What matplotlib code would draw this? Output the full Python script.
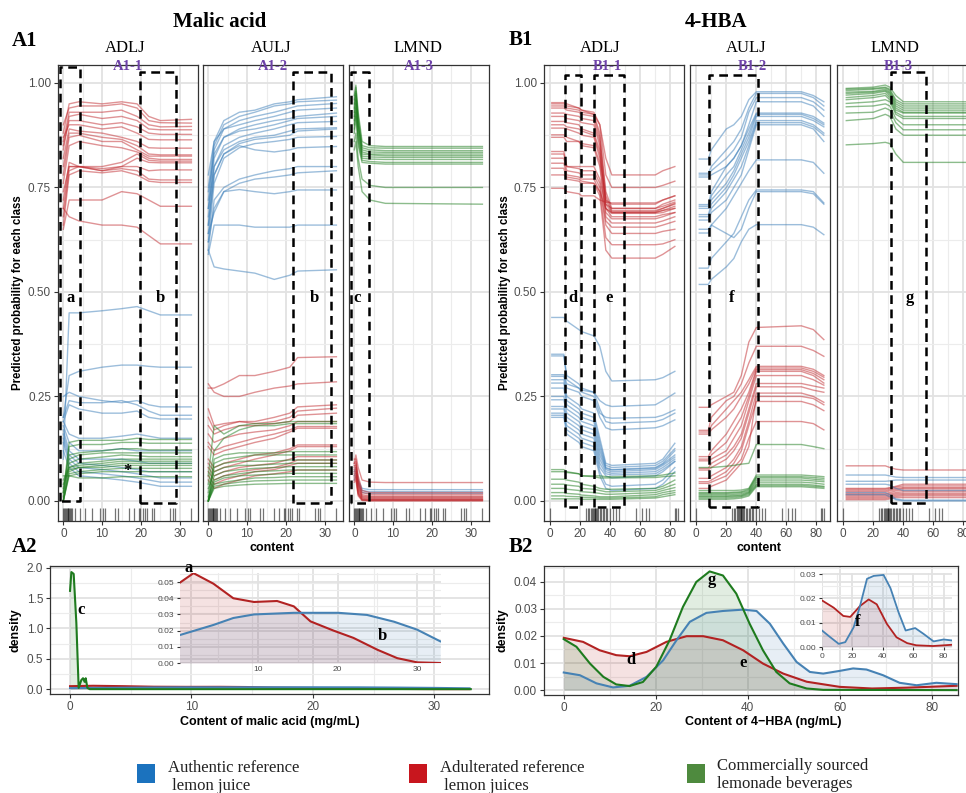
import matplotlib
matplotlib.use("Agg")
from matplotlib import pyplot as plt
from matplotlib.ticker import MultipleLocator, FormatStrFormatter
from matplotlib.patches import Rectangle

plt.rcParams['font.family'] = ['Liberation Sans', 'DejaVu Sans']
SERIF = ['Liberation Serif', 'DejaVu Serif']

RED = '#C0282D'
BLUE = '#3A7DB8'
GREEN = '#1B7A1B'

# ---------------- ICE curves, malic acid ----------------
A11_X = [0, 1.5, 4, 10, 15, 19, 22, 25, 33]
A11_RED = [
    [0.88, 0.95, 0.955, 0.95, 0.955, 0.95, 0.92, 0.91, 0.913],
    [0.90, 0.94, 0.945, 0.945, 0.95, 0.94, 0.91, 0.905, 0.904],
    [0.86, 0.93, 0.93, 0.93, 0.935, 0.92, 0.90, 0.895, 0.896],
    [0.84, 0.92, 0.925, 0.915, 0.92, 0.91, 0.89, 0.888, 0.888],
    [0.85, 0.91, 0.91, 0.90, 0.905, 0.895, 0.88, 0.877, 0.877],
    [0.87, 0.90, 0.90, 0.89, 0.895, 0.88, 0.865, 0.864, 0.864],
    [0.82, 0.89, 0.885, 0.88, 0.87, 0.86, 0.845, 0.844, 0.844],
    [0.80, 0.88, 0.88, 0.87, 0.865, 0.85, 0.83, 0.828, 0.828],
    [0.78, 0.87, 0.875, 0.86, 0.86, 0.84, 0.825, 0.825, 0.825],
    [0.76, 0.85, 0.86, 0.85, 0.845, 0.835, 0.82, 0.817, 0.817],
    [0.74, 0.80, 0.80, 0.80, 0.81, 0.83, 0.815, 0.813, 0.813],
    [0.72, 0.81, 0.80, 0.795, 0.80, 0.82, 0.81, 0.809, 0.809],
    [0.70, 0.80, 0.80, 0.79, 0.80, 0.80, 0.79, 0.792, 0.792],
    [0.68, 0.79, 0.80, 0.79, 0.795, 0.79, 0.77, 0.768, 0.768],
    [0.66, 0.78, 0.79, 0.785, 0.79, 0.78, 0.765, 0.762, 0.762],
    [0.65, 0.72, 0.72, 0.72, 0.74, 0.735, 0.72, 0.705, 0.705],
    [0.70, 0.68, 0.67, 0.66, 0.66, 0.655, 0.635, 0.615, 0.615],
]
A11_BLUE = [
    [0.10, 0.45, 0.45, 0.455, 0.46, 0.465, 0.455, 0.445, 0.445],
    [0.20, 0.30, 0.31, 0.32, 0.325, 0.325, 0.322, 0.32, 0.32],
    [0.25, 0.26, 0.25, 0.24, 0.235, 0.24, 0.23, 0.225, 0.225],
    [0.20, 0.24, 0.235, 0.235, 0.24, 0.23, 0.215, 0.205, 0.205],
    [0.19, 0.23, 0.22, 0.21, 0.21, 0.215, 0.20, 0.196, 0.196],
    [0.19, 0.16, 0.15, 0.15, 0.155, 0.16, 0.155, 0.15, 0.15],
    [0.18, 0.14, 0.12, 0.12, 0.125, 0.12, 0.12, 0.12, 0.12],
    [0.17, 0.12, 0.10, 0.10, 0.10, 0.095, 0.09, 0.09, 0.09],
    [0.16, 0.11, 0.09, 0.085, 0.08, 0.075, 0.07, 0.07, 0.07],
    [0.15, 0.10, 0.08, 0.075, 0.07, 0.065, 0.06, 0.055, 0.055],
    [0.14, 0.09, 0.07, 0.065, 0.06, 0.055, 0.05, 0.045, 0.045],
    [0.12, 0.08, 0.06, 0.055, 0.05, 0.045, 0.04, 0.035, 0.035],
]
A11_GREEN = [
    [0.02, 0.14, 0.145, 0.145, 0.145, 0.15, 0.147, 0.147, 0.147],
    [0.01, 0.13, 0.135, 0.135, 0.14, 0.14, 0.138, 0.138, 0.138],
    [0.03, 0.11, 0.115, 0.12, 0.125, 0.125, 0.122, 0.122, 0.122],
    [0.0, 0.10, 0.11, 0.115, 0.115, 0.115, 0.115, 0.115, 0.115],
    [0.02, 0.09, 0.10, 0.105, 0.11, 0.108, 0.106, 0.106, 0.106],
    [0.0, 0.08, 0.09, 0.095, 0.10, 0.10, 0.10, 0.10, 0.10],
    [0.05, 0.08, 0.085, 0.09, 0.095, 0.095, 0.095, 0.095, 0.095],
    [0.0, 0.07, 0.08, 0.085, 0.09, 0.09, 0.09, 0.09, 0.09],
    [0.04, 0.075, 0.08, 0.08, 0.085, 0.085, 0.085, 0.085, 0.085],
    [0.0, 0.065, 0.07, 0.075, 0.078, 0.078, 0.078, 0.078, 0.078],
    [0.06, 0.06, 0.055, 0.055, 0.058, 0.058, 0.058, 0.058, 0.058],
    [0.0, 0.06, 0.065, 0.07, 0.07, 0.07, 0.07, 0.07, 0.07],
]

A12_X = [0, 1.5, 4, 8, 12, 17, 21, 23, 33]
A12_BLUE = [
    [0.75, 0.86, 0.91, 0.93, 0.935, 0.95, 0.955, 0.96, 0.967],
    [0.72, 0.85, 0.90, 0.92, 0.93, 0.945, 0.95, 0.955, 0.959],
    [0.70, 0.84, 0.89, 0.91, 0.92, 0.93, 0.94, 0.945, 0.951],
    [0.78, 0.86, 0.89, 0.90, 0.91, 0.92, 0.93, 0.935, 0.94],
    [0.68, 0.82, 0.87, 0.89, 0.90, 0.91, 0.915, 0.92, 0.928],
    [0.74, 0.83, 0.87, 0.885, 0.89, 0.90, 0.91, 0.915, 0.92],
    [0.66, 0.80, 0.85, 0.87, 0.88, 0.89, 0.90, 0.905, 0.908],
    [0.70, 0.80, 0.84, 0.86, 0.87, 0.875, 0.885, 0.89, 0.893],
    [0.64, 0.78, 0.83, 0.855, 0.865, 0.87, 0.875, 0.885, 0.89],
    [0.62, 0.76, 0.82, 0.845, 0.855, 0.86, 0.865, 0.87, 0.872],
    [0.66, 0.78, 0.83, 0.85, 0.84, 0.835, 0.84, 0.845, 0.848],
    [0.60, 0.72, 0.75, 0.77, 0.78, 0.79, 0.795, 0.80, 0.80],
    [0.62, 0.70, 0.74, 0.76, 0.77, 0.775, 0.78, 0.785, 0.79],
    [0.64, 0.69, 0.74, 0.745, 0.74, 0.735, 0.74, 0.744, 0.744],
    [0.59, 0.66, 0.66, 0.66, 0.655, 0.655, 0.655, 0.66, 0.66],
    [0.60, 0.56, 0.555, 0.55, 0.545, 0.53, 0.54, 0.55, 0.553],
]
A12_RED = [
    [0.27, 0.27, 0.28, 0.30, 0.30, 0.31, 0.32, 0.343, 0.345],
    [0.28, 0.26, 0.25, 0.25, 0.26, 0.27, 0.275, 0.28, 0.285],
    [0.22, 0.18, 0.185, 0.19, 0.19, 0.20, 0.21, 0.225, 0.23],
    [0.20, 0.17, 0.18, 0.19, 0.185, 0.19, 0.20, 0.215, 0.222],
    [0.18, 0.16, 0.17, 0.18, 0.18, 0.185, 0.19, 0.205, 0.21],
    [0.16, 0.14, 0.15, 0.16, 0.165, 0.17, 0.18, 0.19, 0.19],
    [0.14, 0.12, 0.13, 0.14, 0.15, 0.16, 0.17, 0.178, 0.178],
    [0.13, 0.11, 0.12, 0.13, 0.14, 0.15, 0.165, 0.174, 0.174],
    [0.10, 0.08, 0.09, 0.10, 0.11, 0.115, 0.125, 0.134, 0.134],
    [0.09, 0.07, 0.08, 0.09, 0.10, 0.11, 0.12, 0.13, 0.13],
    [0.08, 0.06, 0.07, 0.08, 0.085, 0.09, 0.10, 0.106, 0.106],
    [0.07, 0.05, 0.06, 0.07, 0.075, 0.08, 0.09, 0.098, 0.098],
    [0.06, 0.04, 0.05, 0.06, 0.07, 0.075, 0.085, 0.09, 0.09],
    [0.05, 0.03, 0.04, 0.05, 0.06, 0.065, 0.07, 0.074, 0.074],
]
A12_GREEN = [
    [0.0, 0.10, 0.11, 0.115, 0.115, 0.115, 0.118, 0.118, 0.118],
    [0.02, 0.09, 0.10, 0.105, 0.11, 0.11, 0.11, 0.11, 0.11],
    [0.0, 0.08, 0.09, 0.095, 0.095, 0.095, 0.098, 0.098, 0.098],
    [0.03, 0.07, 0.08, 0.085, 0.085, 0.088, 0.09, 0.09, 0.09],
    [0.0, 0.06, 0.07, 0.075, 0.078, 0.08, 0.082, 0.082, 0.082],
    [0.01, 0.05, 0.06, 0.065, 0.07, 0.072, 0.074, 0.074, 0.074],
    [0.0, 0.045, 0.055, 0.06, 0.062, 0.064, 0.066, 0.066, 0.066],
    [0.0, 0.04, 0.045, 0.05, 0.055, 0.056, 0.058, 0.058, 0.058],
    [0.0, 0.035, 0.04, 0.045, 0.048, 0.049, 0.05, 0.05, 0.05],
    [0.0, 0.03, 0.035, 0.038, 0.04, 0.041, 0.042, 0.042, 0.042],
    [0.06, 0.18, 0.16, 0.18, 0.185, 0.185, 0.19, 0.19, 0.19],
    [0.04, 0.12, 0.15, 0.17, 0.18, 0.18, 0.185, 0.185, 0.185],
]

A13_X = [0, 0.4, 1, 2, 4, 8, 33]
A13_GREEN = [
    [0.97, 0.995, 0.93, 0.86, 0.85, 0.848, 0.848],
    [0.96, 0.99, 0.92, 0.85, 0.845, 0.844, 0.844],
    [0.95, 0.98, 0.91, 0.845, 0.84, 0.838, 0.838],
    [0.94, 0.975, 0.90, 0.84, 0.835, 0.834, 0.834],
    [0.93, 0.97, 0.90, 0.835, 0.83, 0.83, 0.83],
    [0.92, 0.96, 0.89, 0.83, 0.828, 0.826, 0.826],
    [0.91, 0.95, 0.88, 0.825, 0.823, 0.822, 0.822],
    [0.90, 0.94, 0.87, 0.82, 0.818, 0.817, 0.817],
    [0.89, 0.93, 0.86, 0.815, 0.812, 0.81, 0.81],
    [0.88, 0.92, 0.85, 0.81, 0.808, 0.806, 0.806],
    [0.86, 0.88, 0.82, 0.77, 0.755, 0.75, 0.75],
    [0.84, 0.86, 0.80, 0.74, 0.72, 0.712, 0.71],
]
A13_RED = [
    [0.09, 0.11, 0.08, 0.05, 0.045, 0.044, 0.044],
    [0.10, 0.10, 0.06, 0.025, 0.02, 0.02, 0.02],
    [0.09, 0.095, 0.05, 0.02, 0.016, 0.016, 0.016],
    [0.08, 0.09, 0.045, 0.015, 0.012, 0.012, 0.012],
    [0.085, 0.085, 0.04, 0.012, 0.01, 0.01, 0.01],
    [0.075, 0.08, 0.035, 0.01, 0.008, 0.008, 0.008],
    [0.07, 0.075, 0.03, 0.008, 0.006, 0.006, 0.006],
    [0.065, 0.07, 0.025, 0.006, 0.004, 0.004, 0.004],
    [0.06, 0.065, 0.02, 0.004, 0.003, 0.003, 0.003],
    [0.055, 0.06, 0.018, 0.003, 0.002, 0.002, 0.002],
    [0.05, 0.055, 0.015, 0.002, 0.001, 0.001, 0.001],
    [0.045, 0.05, 0.012, 0.001, 0.0, 0.0, 0.0],
]
A13_BLUE = [
    [0.07, 0.08, 0.05, 0.03, 0.027, 0.027, 0.027],
    [0.06, 0.07, 0.045, 0.025, 0.022, 0.022, 0.022],
    [0.05, 0.06, 0.04, 0.02, 0.018, 0.018, 0.018],
]

MALIC_RUG = [0, 0.2, 0.4, 0.6, 0.9, 1.1, 1.3, 1.5, 1.7, 2.0, 2.2, 3.0, 4.3, 5.6, 7.3, 9.5,
             10.3, 10.8, 13.4, 14.2, 16.8, 18.1, 19.4, 19.8, 20.5, 21.1, 21.6, 22.8, 23.3,
             27.6, 28.3, 28.9, 32.8]

# ---------------- ICE curves, 4-HBA ----------------
B11_X = [1, 9, 11, 19, 21, 29, 33, 37, 41, 70, 75, 83]
B11_RED = [
    [0.953, 0.953, 0.95, 0.94, 0.935, 0.93, 0.90, 0.82, 0.78, 0.78, 0.79, 0.80],
    [0.95, 0.95, 0.945, 0.94, 0.935, 0.925, 0.90, 0.78, 0.75, 0.75, 0.755, 0.765],
    [0.945, 0.945, 0.94, 0.935, 0.93, 0.925, 0.88, 0.74, 0.70, 0.70, 0.71, 0.72],
    [0.94, 0.94, 0.935, 0.93, 0.925, 0.92, 0.87, 0.73, 0.695, 0.695, 0.70, 0.712],
    [0.928, 0.928, 0.925, 0.92, 0.915, 0.91, 0.86, 0.72, 0.692, 0.692, 0.70, 0.71],
    [0.92, 0.92, 0.915, 0.91, 0.905, 0.90, 0.85, 0.71, 0.69, 0.69, 0.695, 0.705],
    [0.908, 0.908, 0.905, 0.90, 0.89, 0.88, 0.84, 0.70, 0.688, 0.688, 0.69, 0.70],
    [0.90, 0.90, 0.895, 0.89, 0.885, 0.875, 0.83, 0.71, 0.70, 0.70, 0.705, 0.715],
    [0.892, 0.892, 0.89, 0.88, 0.875, 0.87, 0.82, 0.72, 0.71, 0.71, 0.72, 0.73],
    [0.876, 0.876, 0.87, 0.86, 0.855, 0.85, 0.81, 0.69, 0.675, 0.675, 0.68, 0.69],
    [0.87, 0.87, 0.86, 0.86, 0.85, 0.845, 0.80, 0.68, 0.665, 0.665, 0.67, 0.68],
    [0.836, 0.836, 0.80, 0.80, 0.80, 0.80, 0.77, 0.70, 0.68, 0.68, 0.685, 0.69],
    [0.83, 0.83, 0.80, 0.795, 0.79, 0.79, 0.76, 0.67, 0.655, 0.655, 0.66, 0.669],
    [0.82, 0.82, 0.79, 0.785, 0.78, 0.78, 0.75, 0.66, 0.64, 0.64, 0.645, 0.65],
    [0.808, 0.808, 0.78, 0.775, 0.77, 0.77, 0.74, 0.63, 0.613, 0.613, 0.615, 0.625],
    [0.796, 0.796, 0.77, 0.765, 0.76, 0.76, 0.73, 0.60, 0.581, 0.581, 0.59, 0.609],
    [0.78, 0.78, 0.775, 0.77, 0.765, 0.76, 0.74, 0.70, 0.69, 0.69, 0.695, 0.70],
    [0.748, 0.748, 0.74, 0.735, 0.73, 0.73, 0.72, 0.715, 0.713, 0.713, 0.72, 0.73],
]
B11_BLUE = [
    [0.439, 0.439, 0.43, 0.41, 0.405, 0.395, 0.37, 0.31, 0.287, 0.29, 0.295, 0.31],
    [0.351, 0.351, 0.30, 0.28, 0.27, 0.26, 0.24, 0.23, 0.226, 0.23, 0.24, 0.258],
    [0.347, 0.347, 0.29, 0.27, 0.26, 0.25, 0.21, 0.20, 0.198, 0.20, 0.205, 0.218],
    [0.302, 0.302, 0.28, 0.27, 0.265, 0.26, 0.22, 0.19, 0.186, 0.19, 0.195, 0.21],
    [0.298, 0.298, 0.27, 0.26, 0.25, 0.24, 0.20, 0.175, 0.17, 0.175, 0.18, 0.194],
    [0.29, 0.29, 0.25, 0.23, 0.22, 0.21, 0.15, 0.09, 0.085, 0.09, 0.10, 0.138],
    [0.282, 0.282, 0.24, 0.22, 0.21, 0.20, 0.14, 0.085, 0.08, 0.085, 0.095, 0.125],
    [0.27, 0.27, 0.23, 0.21, 0.20, 0.19, 0.13, 0.08, 0.075, 0.08, 0.09, 0.12],
    [0.25, 0.25, 0.22, 0.20, 0.19, 0.18, 0.12, 0.078, 0.074, 0.078, 0.088, 0.11],
    [0.242, 0.242, 0.21, 0.19, 0.18, 0.17, 0.11, 0.075, 0.07, 0.075, 0.085, 0.105],
    [0.226, 0.226, 0.20, 0.18, 0.17, 0.16, 0.10, 0.07, 0.066, 0.07, 0.08, 0.10],
    [0.22, 0.22, 0.19, 0.17, 0.16, 0.15, 0.09, 0.065, 0.062, 0.065, 0.075, 0.095],
    [0.21, 0.21, 0.18, 0.16, 0.15, 0.14, 0.08, 0.06, 0.055, 0.06, 0.07, 0.094],
    [0.205, 0.205, 0.17, 0.15, 0.14, 0.13, 0.07, 0.04, 0.035, 0.04, 0.05, 0.08],
    [0.20, 0.20, 0.16, 0.14, 0.13, 0.12, 0.06, 0.03, 0.025, 0.03, 0.04, 0.07],
]
B11_GREEN = [
    [0.075, 0.075, 0.07, 0.065, 0.06, 0.06, 0.06, 0.058, 0.058, 0.06, 0.062, 0.067],
    [0.07, 0.07, 0.068, 0.065, 0.06, 0.058, 0.055, 0.055, 0.055, 0.056, 0.058, 0.06],
    [0.052, 0.052, 0.05, 0.045, 0.04, 0.035, 0.03, 0.028, 0.028, 0.03, 0.035, 0.05],
    [0.04, 0.04, 0.038, 0.035, 0.03, 0.028, 0.025, 0.022, 0.022, 0.025, 0.03, 0.04],
    [0.03, 0.03, 0.028, 0.025, 0.022, 0.02, 0.018, 0.016, 0.016, 0.02, 0.025, 0.032],
    [0.02, 0.02, 0.018, 0.016, 0.014, 0.012, 0.01, 0.01, 0.01, 0.015, 0.02, 0.025],
    [0.012, 0.012, 0.011, 0.01, 0.009, 0.008, 0.007, 0.007, 0.007, 0.01, 0.015, 0.02],
    [0.005, 0.005, 0.005, 0.005, 0.004, 0.004, 0.004, 0.004, 0.004, 0.007, 0.01, 0.015],
]

B12_X = [2, 8, 10, 20, 25, 30, 35, 40, 70, 78, 85]
B12_BLUE = [
    [0.818, 0.818, 0.84, 0.89, 0.90, 0.92, 0.96, 0.979, 0.979, 0.97, 0.955],
    [0.784, 0.784, 0.80, 0.84, 0.86, 0.89, 0.94, 0.975, 0.975, 0.965, 0.945],
    [0.780, 0.780, 0.79, 0.82, 0.84, 0.87, 0.93, 0.965, 0.965, 0.955, 0.935],
    [0.775, 0.775, 0.78, 0.80, 0.82, 0.85, 0.90, 0.955, 0.955, 0.945, 0.92],
    [0.709, 0.709, 0.74, 0.80, 0.82, 0.85, 0.89, 0.928, 0.928, 0.92, 0.904],
    [0.705, 0.705, 0.73, 0.78, 0.80, 0.84, 0.88, 0.925, 0.925, 0.915, 0.90],
    [0.70, 0.70, 0.72, 0.76, 0.79, 0.83, 0.87, 0.92, 0.92, 0.91, 0.895],
    [0.685, 0.685, 0.71, 0.75, 0.78, 0.82, 0.86, 0.91, 0.91, 0.90, 0.88],
    [0.68, 0.68, 0.70, 0.74, 0.77, 0.80, 0.85, 0.905, 0.905, 0.895, 0.875],
    [0.672, 0.672, 0.69, 0.72, 0.75, 0.78, 0.84, 0.90, 0.90, 0.89, 0.86],
    [0.641, 0.641, 0.66, 0.70, 0.73, 0.76, 0.79, 0.816, 0.816, 0.81, 0.784],
    [0.557, 0.557, 0.58, 0.62, 0.64, 0.68, 0.72, 0.744, 0.744, 0.74, 0.713],
    [0.518, 0.518, 0.53, 0.56, 0.58, 0.62, 0.65, 0.661, 0.661, 0.655, 0.637],
    [0.65, 0.65, 0.66, 0.64, 0.63, 0.65, 0.70, 0.74, 0.74, 0.735, 0.71],
]
B12_RED = [
    [0.224, 0.224, 0.23, 0.25, 0.26, 0.30, 0.38, 0.415, 0.419, 0.41, 0.386],
    [0.169, 0.169, 0.20, 0.24, 0.25, 0.28, 0.33, 0.37, 0.37, 0.36, 0.346],
    [0.165, 0.165, 0.18, 0.22, 0.24, 0.26, 0.29, 0.322, 0.322, 0.315, 0.30],
    [0.160, 0.160, 0.17, 0.20, 0.22, 0.25, 0.28, 0.318, 0.318, 0.31, 0.296],
    [0.106, 0.106, 0.12, 0.16, 0.19, 0.22, 0.26, 0.314, 0.314, 0.305, 0.29],
    [0.10, 0.10, 0.11, 0.14, 0.17, 0.20, 0.25, 0.31, 0.31, 0.30, 0.282],
    [0.096, 0.096, 0.10, 0.12, 0.15, 0.18, 0.24, 0.30, 0.30, 0.29, 0.277],
    [0.078, 0.078, 0.09, 0.11, 0.13, 0.16, 0.22, 0.281, 0.281, 0.275, 0.27],
    [0.074, 0.074, 0.08, 0.10, 0.12, 0.15, 0.21, 0.273, 0.273, 0.265, 0.26],
    [0.054, 0.054, 0.06, 0.08, 0.10, 0.13, 0.19, 0.258, 0.258, 0.25, 0.236],
    [0.046, 0.046, 0.05, 0.07, 0.09, 0.12, 0.18, 0.238, 0.238, 0.23, 0.216],
    [0.042, 0.042, 0.045, 0.06, 0.08, 0.10, 0.15, 0.19, 0.19, 0.185, 0.17],
    [0.030, 0.030, 0.035, 0.05, 0.07, 0.09, 0.13, 0.25, 0.25, 0.245, 0.23],
]
B12_GREEN = [
    [0.08, 0.08, 0.08, 0.083, 0.085, 0.088, 0.09, 0.135, 0.135, 0.13, 0.125],
    [0.025, 0.025, 0.025, 0.025, 0.025, 0.026, 0.03, 0.062, 0.062, 0.06, 0.058],
    [0.02, 0.02, 0.02, 0.02, 0.021, 0.022, 0.028, 0.058, 0.058, 0.056, 0.054],
    [0.018, 0.018, 0.018, 0.018, 0.019, 0.02, 0.025, 0.055, 0.055, 0.052, 0.05],
    [0.015, 0.015, 0.015, 0.015, 0.016, 0.017, 0.022, 0.05, 0.05, 0.048, 0.046],
    [0.012, 0.012, 0.012, 0.012, 0.013, 0.014, 0.02, 0.045, 0.045, 0.043, 0.04],
    [0.01, 0.01, 0.01, 0.01, 0.011, 0.012, 0.018, 0.04, 0.04, 0.038, 0.035],
    [0.007, 0.007, 0.007, 0.007, 0.008, 0.01, 0.015, 0.037, 0.037, 0.035, 0.033],
    [0.004, 0.004, 0.004, 0.004, 0.005, 0.007, 0.012, 0.034, 0.034, 0.032, 0.03],
]

B13_X = [2, 20, 28, 31, 35, 40, 85]
B13_GREEN = [
    [0.987, 0.99, 0.995, 0.99, 0.97, 0.955, 0.955],
    [0.985, 0.987, 0.99, 0.985, 0.96, 0.95, 0.95],
    [0.982, 0.985, 0.988, 0.982, 0.955, 0.945, 0.945],
    [0.978, 0.98, 0.985, 0.978, 0.95, 0.94, 0.94],
    [0.975, 0.978, 0.982, 0.975, 0.945, 0.935, 0.935],
    [0.971, 0.975, 0.98, 0.97, 0.94, 0.93, 0.93],
    [0.965, 0.97, 0.975, 0.965, 0.935, 0.928, 0.928],
    [0.96, 0.965, 0.97, 0.96, 0.93, 0.92, 0.92],
    [0.951, 0.955, 0.96, 0.955, 0.925, 0.915, 0.915],
    [0.943, 0.945, 0.95, 0.945, 0.915, 0.90, 0.90],
    [0.928, 0.93, 0.94, 0.935, 0.905, 0.888, 0.888],
    [0.91, 0.915, 0.925, 0.92, 0.89, 0.875, 0.875],
    [0.852, 0.855, 0.858, 0.855, 0.83, 0.81, 0.81],
]
B13_RED = [
    [0.084, 0.084, 0.084, 0.08, 0.076, 0.074, 0.074],
    [0.03, 0.03, 0.03, 0.032, 0.035, 0.04, 0.04],
    [0.028, 0.028, 0.028, 0.03, 0.033, 0.036, 0.036],
    [0.025, 0.025, 0.025, 0.027, 0.03, 0.032, 0.032],
    [0.022, 0.022, 0.022, 0.024, 0.027, 0.03, 0.03],
    [0.018, 0.018, 0.018, 0.02, 0.024, 0.026, 0.026],
    [0.015, 0.015, 0.015, 0.017, 0.02, 0.022, 0.022],
    [0.012, 0.012, 0.012, 0.014, 0.017, 0.018, 0.018],
    [0.009, 0.009, 0.009, 0.011, 0.014, 0.015, 0.015],
    [0.006, 0.006, 0.006, 0.008, 0.011, 0.012, 0.012],
    [0.003, 0.003, 0.003, 0.005, 0.008, 0.008, 0.008],
]
B13_BLUE = [
    [0.062, 0.062, 0.062, 0.06, 0.057, 0.056, 0.056],
    [0.047, 0.047, 0.047, 0.048, 0.05, 0.05, 0.05],
    [0.04, 0.04, 0.04, 0.038, 0.03, 0.025, 0.025],
    [0.02, 0.02, 0.02, 0.015, 0.005, 0.002, 0.002],
    [0.015, 0.015, 0.015, 0.01, 0.003, 0.0, 0.0],
]

HBA_RUG = [0, 24, 25, 26, 27, 28, 28.5, 29, 29.5, 30, 30.5, 31, 32, 33, 34, 35, 36, 37, 38,
           40, 42, 44, 46, 57, 61, 64, 66, 83, 84, 85]

# ---------------- densities ----------------
MALIC_RED_X = [0, 1.9, 4.4, 6.9, 9.5, 12.4, 14.5, 16.6, 19.5, 22.0, 25.0, 27.5, 30.0, 32.9]
MALIC_RED_Y = [0.049, 0.0555, 0.049, 0.040, 0.0377, 0.0383, 0.035, 0.0257, 0.020, 0.0155,
               0.0082, 0.003, 0.0004, 0.0]
MALIC_BLUE_X = [0, 4.4, 6.9, 9.5, 14.5, 20.1, 23.7, 27.1, 30.0, 32.9]
MALIC_BLUE_Y = [0.017, 0.0235, 0.0278, 0.030, 0.031, 0.031, 0.0297, 0.0255, 0.0206, 0.0134]
MALIC_GREEN_X = [0, 0.11, 0.3, 0.52, 0.71, 0.93, 1.07, 1.2, 1.29, 1.43, 1.62, 33]
MALIC_GREEN_Y = [1.62, 1.93, 1.9, 1.09, 0.02, 0.15, 0.18, 0.12, 0.18, 0.02, 0.0, 0.0]

HBA_RED_X = [0, 4.2, 7.8, 11.4, 14.3, 18, 22.3, 26.7, 30.3, 34.6, 39, 43.3, 47.7, 52.8, 60, 67,
             74.5, 85.4]
HBA_RED_Y = [0.0193, 0.0178, 0.0147, 0.0129, 0.0125, 0.0141, 0.0178, 0.0199, 0.0199, 0.0184,
             0.0147, 0.0098, 0.0061, 0.0031, 0.0012, 0.0006, 0.0009, 0.0016]
HBA_GREEN_X = [0, 2.75, 5.7, 8.6, 11.4, 14.3, 17.2, 20.1, 23, 25.9, 28.8, 31.7, 34.6, 37.5, 40.4,
               43.3, 46.2, 49.1, 52.8, 56.4, 85.4]
HBA_GREEN_Y = [0.0188, 0.016, 0.0098, 0.0049, 0.0021, 0.0015, 0.003, 0.0086, 0.0184, 0.0307,
               0.0399, 0.0438, 0.0423, 0.0356, 0.0245, 0.0147, 0.0067, 0.0025, 0.0006, 0.0001, 0.0]
HBA_BLUE_X = [0, 3.5, 7.1, 10.7, 14.3, 18, 21.6, 24.5, 27.4, 31, 34.6, 39, 41.9, 44.8, 47.7, 50.6,
              53.5, 56.4, 60, 62.9, 65.8, 69.4, 73, 76.7, 81, 85.4]
HBA_BLUE_Y = [0.0065, 0.0055, 0.0025, 0.001, 0.0016, 0.0049, 0.011, 0.0184, 0.0252, 0.0285,
              0.0292, 0.0297, 0.0292, 0.0245, 0.0172, 0.0104, 0.0067, 0.0061, 0.0071, 0.008,
              0.0076, 0.0055, 0.0027, 0.0018, 0.0027, 0.0022]
HBA_IN_RED_X = [0, 7.7, 14, 18.6, 25, 30.7, 36, 42.7, 49, 56, 62, 73, 85]
HBA_IN_RED_Y = [0.0192, 0.0162, 0.0128, 0.0124, 0.0169, 0.0196, 0.0176, 0.0095, 0.004, 0.0016,
                0.0007, 0.0004, 0.0009]
HBA_IN_BLUE_X = [0, 5.5, 11, 15.3, 20.8, 25, 29.6, 34, 40.5, 45, 50.4, 55, 61.3, 66.8, 73.4, 80,
                 85.4]
HBA_IN_BLUE_Y = [0.0068, 0.004, 0.0013, 0.002, 0.0081, 0.0169, 0.0281, 0.0293, 0.0297, 0.0243,
                 0.0142, 0.0068, 0.0078, 0.0054, 0.0023, 0.0031, 0.0027]

CLASS_LABELS = ['Authentic reference\n lemon juice', 'Adulterated reference\n lemon juices',
                'Commercially sourced\nlemonade beverages']
CLASS_COLORS = ['#1B72BE', '#C8161E', '#4E8A3E']

W, H = 966, 793
fig = plt.figure(figsize=(W / 100, H / 100), dpi=100)


def px_axes(x0, y0, x1, y1):
    return fig.add_axes([x0 / W, 1 - y1 / H, (x1 - x0) / W, (y1 - y0) / H])


def ftext(x, y, s, **kw):
    fig.text(x / W, 1 - y / H, s, **kw)


def style(ax, xmaj, xmin, ymaj, ymin):
    ax.xaxis.set_major_locator(MultipleLocator(xmaj))
    ax.xaxis.set_minor_locator(MultipleLocator(xmin))
    ax.yaxis.set_major_locator(MultipleLocator(ymaj))
    ax.yaxis.set_minor_locator(MultipleLocator(ymin))
    ax.grid(which='major', color='#e2e2e2', lw=1.3)
    ax.grid(which='minor', color='#ececec', lw=0.8)
    ax.set_axisbelow(True)
    ax.tick_params(which='minor', length=0)
    ax.tick_params(which='major', labelsize=8.5, labelcolor='#4D4D4D', color='#333333',
                   length=3, width=0.8, pad=2)
    for s in ax.spines.values():
        s.set_color('#333333')
        s.set_linewidth(0.9)


def ice_panel(rect, xlim, xmaj, xmin, xs, groups, rug, boxes, letters, show_y):
    ax = px_axes(*rect)
    ax.set_xlim(*xlim)
    ax.set_ylim(-0.048, 1.043)
    style(ax, xmaj, xmin, 0.25, 0.125)
    ax.yaxis.set_major_formatter(FormatStrFormatter('%.2f'))
    if not show_y:
        ax.tick_params(axis='y', labelleft=False, length=0)
    for curves, col in groups:
        for ys in curves:
            ax.plot(xs, ys, color=col, alpha=0.5, lw=1.0)
    ax.vlines(rug, 0, 0.028, transform=ax.get_xaxis_transform(), color='black', alpha=0.55, lw=0.9)
    for x0, x1, y0, y1 in boxes:
        ax.plot([x0, x0, x1, x1, x0], [y0, y1, y1, y0, y0], color='black', lw=1.8,
                ls=(0, (3.5, 2.2)), clip_on=False)
    for x, y, t in letters:
        ax.text(x, y, t, family=SERIF, weight='bold', fontsize=12, ha='center', va='center')
    return ax


# ---- A1 row ----
ice_panel((58, 65, 198, 521), (-1.37, 34.7), 10, 5, A11_X,
          [(A11_RED, RED), (A11_BLUE, BLUE), (A11_GREEN, GREEN)], MALIC_RUG,
          [(-0.86, 4.3, 0.0, 1.038), (19.8, 29.05, -0.006, 1.026)],
          [(2.0, 0.486, 'a'), (25.0, 0.486, 'b'), (16.5, 0.072, '*')], True)
ice_panel((203, 65, 343, 521), (-1.37, 34.7), 10, 5, A12_X,
          [(A12_RED, RED), (A12_GREEN, GREEN), (A12_BLUE, BLUE)], MALIC_RUG,
          [(21.8, 31.5, -0.006, 1.026)], [(27.3, 0.486, 'b')], False)
ice_panel((349, 65, 489, 521), (-1.37, 34.7), 10, 5, A13_X,
          [(A13_GREEN, GREEN), (A13_BLUE, BLUE), (A13_RED, RED)], MALIC_RUG,
          [(-0.86, 3.9, -0.006, 1.026)], [(0.7, 0.486, 'c')], False)

# ---- B1 row ----
ice_panel((544, 65, 684, 521), (-4.2, 89.1), 20, 10, B11_X,
          [(B11_RED, RED), (B11_BLUE, BLUE), (B11_GREEN, GREEN)], HBA_RUG,
          [(9.8, 20.2, -0.014, 1.018), (29.3, 49.3, -0.014, 1.018)],
          [(15.3, 0.486, 'd'), (39.3, 0.486, 'e')], True)
ice_panel((690, 65, 830, 521), (-4.2, 89.1), 20, 10, B12_X,
          [(B12_BLUE, BLUE), (B12_RED, RED), (B12_GREEN, GREEN)], HBA_RUG,
          [(8.2, 40.9, -0.014, 1.018)], [(23.6, 0.486, 'f')], False)
ice_panel((837, 65, 977, 521), (-4.2, 89.1), 20, 10, B13_X,
          [(B13_GREEN, GREEN), (B13_RED, RED), (B13_BLUE, BLUE)], HBA_RUG,
          [(31.6, 55.3, -0.006, 1.027)], [(44.2, 0.486, 'g')], False)

# ---- A2 density ----
ax = px_axes(50, 566, 489, 694)
ax.set_xlim(-1.65, 34.5)
ax.set_ylim(-0.08, 2.03)
style(ax, 10, 5, 0.5, 0.25)
ax.yaxis.set_major_formatter(FormatStrFormatter('%.1f'))
for xs, ys, col in [(MALIC_RED_X, MALIC_RED_Y, '#B22222'), (MALIC_BLUE_X, MALIC_BLUE_Y, '#4682B4'),
                    (MALIC_GREEN_X, MALIC_GREEN_Y, '#1E7B1E')]:
    ax.fill_between(xs, ys, color=col, alpha=0.13, lw=0)
    ax.plot(xs, ys, color=col, lw=1.5)
ax.text(0.9, 1.3, 'c', family=SERIF, weight='bold', fontsize=12, ha='center', va='center')
ax.set_ylabel('density', fontsize=9, weight='bold', labelpad=4)

ins = px_axes(180, 573, 441, 663)
ins.patch.set_alpha(0)
ins.set_xlim(0.2, 33)
ins.set_ylim(0, 0.0556)
style(ins, 10, 5, 0.01, 0.005)
ins.tick_params(which='major', labelsize=6, length=2)
ins.tick_params(axis='x', length=0)
ins.yaxis.set_major_formatter(FormatStrFormatter('%.2f'))
for s in ins.spines.values():
    s.set_visible(False)
for xs, ys, col in [(MALIC_RED_X, MALIC_RED_Y, '#B22222'), (MALIC_BLUE_X, MALIC_BLUE_Y, '#4682B4')]:
    ins.fill_between(xs, ys, color=col, alpha=0.13, lw=0)
    ins.plot(xs, ys, color=col, lw=1.5)
ins.text(1.3, 0.0585, 'a', family=SERIF, weight='bold', fontsize=12, ha='center', va='center',
         clip_on=False)
ins.text(25.6, 0.0168, 'b', family=SERIF, weight='bold', fontsize=12, ha='center', va='center')

# ---- B2 density ----
ax = px_axes(544, 566, 958, 695)
ax.set_xlim(-4.3, 85.7)
ax.set_ylim(-0.0018, 0.0458)
style(ax, 20, 10, 0.01, 0.005)
ax.yaxis.set_major_formatter(FormatStrFormatter('%.2f'))
for xs, ys, col in [(HBA_RED_X, HBA_RED_Y, '#B22222'), (HBA_BLUE_X, HBA_BLUE_Y, '#4682B4'),
                    (HBA_GREEN_X, HBA_GREEN_Y, '#1E7B1E')]:
    ax.fill_between(xs, ys, color=col, alpha=0.13, lw=0)
    ax.plot(xs, ys, color=col, lw=1.5)
for x, y, t in [(32.1, 0.0405, 'g'), (14.5, 0.0112, 'd'), (39.0, 0.0100, 'e')]:
    ax.text(x, y, t, family=SERIF, weight='bold', fontsize=12, ha='center', va='center')
ax.set_ylabel('density', fontsize=9, weight='bold', labelpad=4)

ins = px_axes(822, 573, 952, 647)
ins.patch.set_alpha(0)
ins.set_xlim(0, 85.5)
ins.set_ylim(0, 0.0305)
style(ins, 20, 10, 0.01, 0.005)
ins.tick_params(which='major', labelsize=6, length=2)
for s in ins.spines.values():
    s.set_visible(False)
for xs, ys, col in [(HBA_IN_RED_X, HBA_IN_RED_Y, '#B22222'), (HBA_IN_BLUE_X, HBA_IN_BLUE_Y, '#4682B4')]:
    ins.fill_between(xs, ys, color=col, alpha=0.13, lw=0)
    ins.plot(xs, ys, color=col, lw=1.3)
ins.yaxis.set_major_formatter(FormatStrFormatter('%.2f'))
ins.text(23.5, 0.0105, 'f', family=SERIF, weight='bold', fontsize=12, ha='center', va='center')

# ---- texts ----
ftext(220, 22, 'Malic acid', family=SERIF, weight='bold', fontsize=15, ha='center', va='center')
ftext(716, 22, '4-HBA', family=SERIF, weight='bold', fontsize=15, ha='center', va='center')
for x, y, s in [(25, 41, 'A1'), (521, 40, 'B1'), (25, 547, 'A2'), (521, 547, 'B2')]:
    ftext(x, y, s, family=SERIF, weight='bold', fontsize=15, ha='center', va='center')
for x, s in [(125, 'ADLJ'), (271, 'AULJ'), (418, 'LMND'), (600, 'ADLJ'), (746, 'AULJ'), (895, 'LMND')]:
    ftext(x, 48, s, family=SERIF, fontsize=12, ha='center', va='center')
for x, s in [(128, 'A1-1'), (273, 'A1-2'), (419, 'A1-3'), (607, 'B1-1'), (752, 'B1-2'), (898, 'B1-3')]:
    ftext(x, 67, s, family=SERIF, weight='bold', fontsize=10.5, color='#6E42A8', ha='center',
          va='center')
ftext(18, 293, 'Predicted probability for each class', rotation=90, fontsize=8.3, weight='bold',
      ha='center', va='center')
ftext(505, 293, 'Predicted probability for each class', rotation=90, fontsize=8.3, weight='bold',
      ha='center', va='center')
ftext(272, 548, 'content', fontsize=9, weight='bold', ha='center', va='center')
ftext(759, 548, 'content', fontsize=9, weight='bold', ha='center', va='center')
ftext(270, 722, 'Content of malic acid (mg/mL)', fontsize=9, weight='bold', ha='center', va='center')
ftext(763, 722, 'Content of 4\u2212HBA (ng/mL)', fontsize=9, weight='bold', ha='center', va='center')

# ---- legend ----
for (x0, tx, ty), lab, col in zip([(137, 168, 777), (409, 440, 777), (687, 717, 775)],
                                  CLASS_LABELS, CLASS_COLORS):
    fig.add_artist(Rectangle((x0 / W, 1 - 783 / H), 18 / W, 19 / H, transform=fig.transFigure,
                             color=col, lw=0))
    ftext(tx, ty, lab, family=SERIF, fontsize=12, color='#222222', ha='left', va='center',
          linespacing=1.25)

fig.savefig('out.png', dpi=100)
